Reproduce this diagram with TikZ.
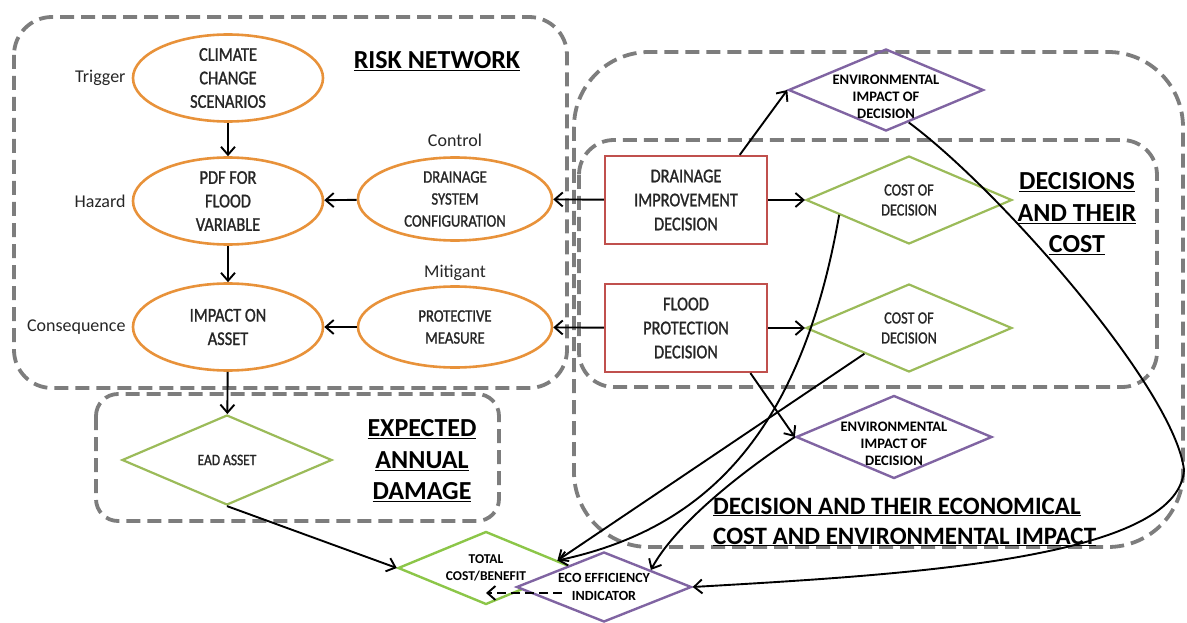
\documentclass[tikz,border=0pt]{standalone}
\usepackage{fontspec}
\setmainfont{Carlito}
\newfontfamily\narrowfont[FakeStretch=0.84,FakeBold=1.2]{Carlito}
\usetikzlibrary{shapes.geometric,arrows.meta,positioning}

\definecolor{riskorange}{RGB}{232,146,58}
\definecolor{decred}{RGB}{192,80,77}
\definecolor{costgreen}{RGB}{155,187,89}
\definecolor{totgreen}{RGB}{140,198,72}
\definecolor{envpurple}{RGB}{128,100,162}
\definecolor{boxgray}{RGB}{125,125,125}

\begin{document}
\begin{tikzpicture}[x=1pt,y=-1pt,
  riskvar/.style={ellipse,draw=riskorange,line width=2.6pt,minimum width=190pt,minimum height=87pt,inner sep=0pt,align=center,text=black!85,font=\narrowfont\fontsize{19.5}{23.5}\selectfont},
  decbox/.style={rectangle,draw=decred,line width=2.2pt,minimum width=162pt,minimum height=88pt,align=center,text=black!85,font=\narrowfont\fontsize{19.5}{24}\selectfont},
  costdia/.style={diamond,draw=costgreen,line width=2.2pt,inner sep=-30pt,minimum width=206pt,minimum height=88pt,align=center,text=black!85,font=\narrowfont\fontsize{17}{20}\selectfont},
  envdia/.style={diamond,draw=envpurple,line width=2.4pt,inner sep=0pt,minimum width=195pt,minimum height=82pt},
  envtext/.style={inner sep=0pt,align=center,yshift=-7pt,font=\bfseries\fontsize{14.5}{17}\selectfont},
  tag/.style={inner sep=1pt,font=\fontsize{18}{21}\selectfont,text=black!85},
  heading/.style={inner sep=0pt,align=center,font=\bfseries\fontsize{26}{31.5}\selectfont},
  zone/.style={draw=boxgray,line width=3.8pt,dash pattern=on 14pt off 7pt},
  link/.style={-{Straight Barb[length=8pt,width=14pt]},line width=1.9pt}]
  \useasboundingbox (0,0) rectangle (1187,623);

  % dashed zones
  \draw[zone,rounded corners=38pt] (14,17) rectangle (567,388);
  \draw[zone,rounded corners=22pt] (96,394) rectangle (499,521);
  \draw[zone,rounded corners=75pt] (574,52) rectangle (1183,547);
  \draw[zone,rounded corners=35pt] (579,140) rectangle (1157,387);

  % risk network
  \node[riskvar] (climate) at (228,78) {CLIMATE\\CHANGE\\SCENARIOS};
  \node[riskvar] (flood) at (228,201) {PDF FOR\\FLOOD\\VARIABLE};
  \node[riskvar] (impact) at (228,327) {IMPACT ON\\ASSET};
  \node[riskvar,minimum width=194pt,minimum height=83pt,font=\narrowfont\fontsize{17.5}{22}\selectfont] (sysconf) at (455,199) {DRAINAGE\\SYSTEM\\CONFIGURATION};
  \node[riskvar,minimum width=194pt,minimum height=81pt,font=\narrowfont\fontsize{17.5}{22}\selectfont] (protect) at (455,327) {PROTECTIVE\\MEASURE};
  \node[tag,left=5pt of climate] (trigger) {Trigger};
  \node[tag,left=5pt of flood] (hazard) {Hazard};
  \node[tag,left=5pt of impact] (conseq) {Consequence};
  \node[tag,above=8pt of sysconf] (control) {Control};
  \node[tag,above=3pt of protect] (mitigant) {Mitigant};

  % decisions
  \node[decbox] (drainimp) at (686,200) {DRAINAGE\\IMPROVEMENT\\DECISION};
  \node[decbox] (floodprot) at (686,328) {FLOOD\\PROTECTION\\DECISION};
  \node[costdia] (cost1) at (909,200) {COST OF\\DECISION};
  \node[costdia] (cost2) at (909,328) {COST OF\\DECISION};
  \node[envdia,label={[envtext]center:ENVIRONMENTAL\\IMPACT OF\\DECISION}] (env1) at (886,90) {};
  \node[envdia,minimum width=196pt,minimum height=83pt,label={[envtext]center:ENVIRONMENTAL\\IMPACT OF\\DECISION}] (env2) at (894,437) {};

  % damage and totals
  \node[costdia,minimum width=210pt,minimum height=90pt,font=\narrowfont\fontsize{16}{19}\selectfont] (ead) at (227,460) {EAD ASSET};
  \node[envdia,draw=totgreen,fill=white,minimum width=176pt,minimum height=73pt,inner sep=-30pt,align=center,font=\bfseries\fontsize{13.5}{17}\selectfont] (total) at (486,568) {TOTAL\\COST/BENEFIT};
  \node[envdia,fill=white,minimum width=175pt,minimum height=70pt,inner sep=-30pt,align=center,font=\bfseries\fontsize{14}{18}\selectfont] (eco) at (604,587) {ECO EFFICIENCY\\INDICATOR};

  % titles
  \node[heading] (risktitle) at (437,61) {\underline{RISK NETWORK}};
  \node[heading] (dectitle) at (1077,214) {\underline{DECISIONS}\\\underline{AND THEIR}\\\underline{COST}};
  \node[heading] (eadtitle) at (422,461) {\underline{EXPECTED}\\\underline{ANNUAL}\\\underline{DAMAGE}};
  \node[heading,anchor=west,align=left,font=\bfseries\fontsize{25}{30}\selectfont] (envtitle) at (713,522) {\underline{DECISION AND THEIR ECONOMICAL}\\\underline{COST AND ENVIRONMENTAL IMPACT}};

  % links
  \draw[link] (climate) -- (flood);
  \draw[link] (flood) -- (impact);
  \draw[link] (sysconf) -- (flood);
  \draw[link] (protect) -- (impact);
  \draw[link] (impact) -- (ead);
  \draw[link] (drainimp) -- (sysconf);
  \draw[link] (floodprot) -- (protect);
  \draw[link] (drainimp) -- (cost1);
  \draw[link] (floodprot) -- (cost2);
  \draw[link] (drainimp.40) -- (env1.west);
  \draw[link] (floodprot.-35) -- (env2.west);
  \draw[link] (cost1.-168) .. controls (800,440) and (700,530) .. (total.6);
  \draw[link] (cost2.-150) -- (total.6);
  \draw[link] (env2.west) .. controls (740,473) and (675,525) .. (eco.20);
  \draw[link] (env1.-55) .. controls (1000,190) and (1175,390) .. (1184,470) .. controls (1178,560) and (900,575) .. (eco.east);
  \draw[link] (ead.south) -- (total.west);
  \draw[link,dash pattern=on 9pt off 5pt] ([shift={(-42,6)}]eco.center) -- ([shift={(0,25)}]total.center);
\end{tikzpicture}
\end{document}
